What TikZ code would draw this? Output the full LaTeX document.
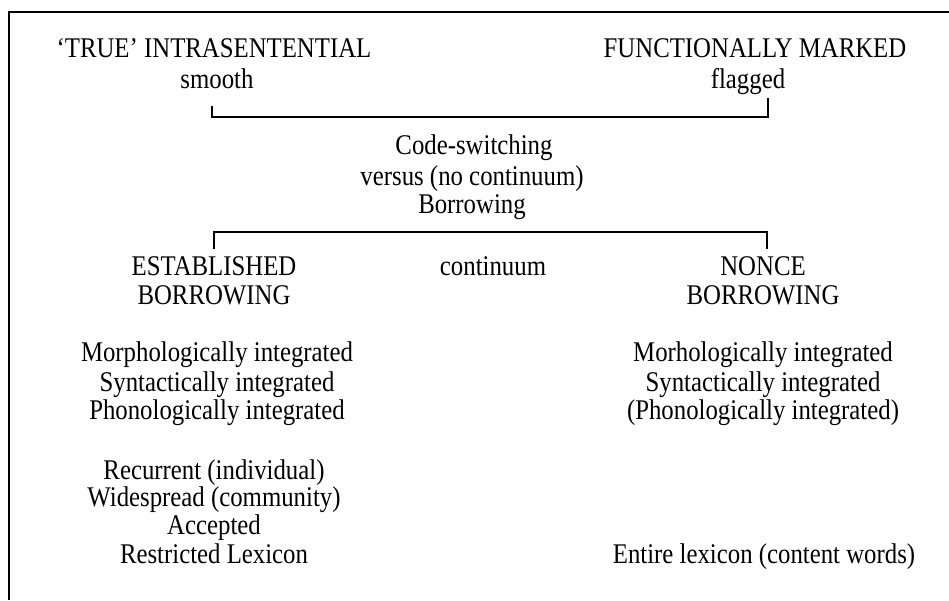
\documentclass[tikz,border=0pt]{standalone}
\usepackage{fontspec}
\setmainfont{Liberation Serif}[FakeStretch=0.87]
\begin{document}
\begin{tikzpicture}[x=1pt,y=-1pt,
  lbl/.style={inner sep=0pt,anchor=base,font=\fontsize{28.5}{30}\selectfont},
  bracket/.style={line width=1.1pt,line cap=butt},
  frame/.style={line width=1.8pt}]
\useasboundingbox (0,0) rectangle (949,600);
% outer frame (top and left edges)
\coordinate (fTL) at (9,12);
\coordinate (fTR) at (949,12);
\coordinate (fBL) at (9,600);
\draw[frame] (fTR) -- (fTL) -- (fBL);

% top row
\node[lbl] (true)   at (214,57) {‘TRUE’ INTRASENTENTIAL};
\node[lbl] (smooth) at (217,88) {smooth};
\node[lbl] (func)   at (755,57) {FUNCTIONALLY MARKED};
\node[lbl] (flag)   at (748,88) {flagged};

% upper bracket
\coordinate (ua) at (212,106);
\coordinate (ub) at (212,117);
\coordinate (uc) at (768,117);
\coordinate (ud) at (768,98);
\draw[bracket] (ua) -- (ub) -- (uc) -- (ud);

% centre block
\node[lbl] (cs)  at (474,154) {Code-switching};
\node[lbl] (vs)  at (472,185) {versus (no continuum)};
\node[lbl] (bor) at (472,213) {Borrowing};

% lower bracket
\coordinate (la) at (214,249);
\coordinate (lb) at (214,232);
\coordinate (lc) at (767,232);
\coordinate (ld) at (767,249);
\draw[bracket] (la) -- (lb) -- (lc) -- (ld);

% second row
\node[lbl] (est)   at (214,275) {ESTABLISHED};
\node[lbl] (estb)  at (214,304) {BORROWING};
\node[lbl] (cont)  at (493,275) {continuum};
\node[lbl] (nonce) at (763,275) {NONCE};
\node[lbl] (nonb)  at (763,304) {BORROWING};

% established borrowing properties
\node[lbl] (lm) at (217,361) {Morphologically integrated};
\node[lbl] (ls) at (217,391) {Syntactically integrated};
\node[lbl] (lp) at (217,419) {Phonologically integrated};
\node[lbl] (lr) at (214,479) {Recurrent (individual)};
\node[lbl] (lw) at (214,506) {Widespread (community)};
\node[lbl] (la2) at (214,534) {Accepted};
\node[lbl] (ll) at (214,563) {Restricted Lexicon};

% nonce borrowing properties
\node[lbl] (rm) at (763,361) {Morhologically integrated};
\node[lbl] (rs) at (763,391) {Syntactically integrated};
\node[lbl] (rp) at (763,419) {(Phonologically integrated)};
\node[lbl] (re) at (764,563) {Entire lexicon (content words)};
\end{tikzpicture}
\end{document}
